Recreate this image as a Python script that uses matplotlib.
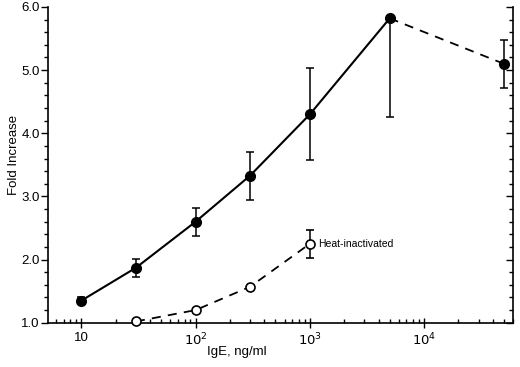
import matplotlib
matplotlib.use("Agg")
import matplotlib.pyplot as plt
from matplotlib.ticker import FixedLocator, LogLocator, MultipleLocator, NullFormatter
import numpy as np

plt.rcParams["font.family"] = ["Liberation Sans", "DejaVu Sans"]

# IgE dose (ng/ml) and fold increase, active IgE
ige = [10, 30, 100, 300, 1000, 5000]
fold = [1.35, 1.87, 2.60, 3.33, 4.30, 5.82]
err_lo = [0.06, 0.14, 0.22, 0.38, 0.73, 1.56]
err_hi = [0.06, 0.14, 0.22, 0.38, 0.73, 0.0]

# highest dose, joined with a dashed line
ige_high = [5000, 50000]
fold_high = [5.82, 5.10]
err_high = [0.0, 0.38]

# heat-inactivated IgE
ige_heat = [30, 100, 300, 1000]
fold_heat = [1.02, 1.20, 1.57, 2.25]
err_heat = [0.0, 0.0, 0.0, 0.22]

xticks = [10, 100, 1000, 10000]
xtick_labels = ["10", "$10^2$", "$10^3$", "$10^4$"]
yticks = [1.0, 2.0, 3.0, 4.0, 5.0, 6.0]

fig = plt.figure(figsize=(5.2, 3.67), dpi=100)
ax = fig.add_axes([0.0923, 0.1207, 0.8942, 0.8603])

ax.plot(ige, fold, color="black", lw=1.5, zorder=2)
ax.errorbar(ige, fold, yerr=[err_lo, err_hi], fmt="o", color="black",
            ms=7, capsize=3, elinewidth=1.1, capthick=1.1, zorder=3)
ax.plot(ige_high, fold_high, color="black", lw=1.3, ls=(0, (5, 4)), zorder=2)
ax.errorbar(ige_high[1:], fold_high[1:], yerr=err_high[1:], fmt="o", color="black",
            ms=7, capsize=3, elinewidth=1.1, capthick=1.1, zorder=3)

ax.plot(ige_heat, fold_heat, color="black", lw=1.3, ls=(0, (5, 4)), zorder=2)
ax.errorbar(ige_heat, fold_heat, yerr=err_heat, fmt="o", color="black",
            mfc="white", mec="black", mew=1.2, ms=6.5, capsize=3,
            elinewidth=1.1, capthick=1.1, zorder=3, clip_on=False)
ax.text(1180, fold_heat[-1], "Heat-inactivated", fontsize=7.5, va="center", ha="left")

ax.set_xscale("log")
ax.set_xlim(5.1, 60000)
ax.set_ylim(1.0, 6.0)

ax.xaxis.set_major_locator(FixedLocator(xticks))
ax.set_xticklabels(xtick_labels)
ax.xaxis.set_minor_locator(LogLocator(base=10, subs=np.arange(2, 10)))
ax.xaxis.set_minor_formatter(NullFormatter())
ax.set_yticks(yticks)
ax.set_yticklabels([f"{v:.1f}" for v in yticks])
ax.yaxis.set_minor_locator(MultipleLocator(0.2))

ax.spines["top"].set_visible(False)
for s in ["left", "bottom", "right"]:
    ax.spines[s].set_linewidth(1.2)

ax.tick_params(axis="y", which="both", direction="out", left=True, right=True,
               labelsize=9.5, width=1, pad=1)
ax.tick_params(axis="y", which="major", length=5)
ax.tick_params(axis="y", which="minor", length=3)
ax.tick_params(axis="x", which="major", direction="inout", length=7, width=1,
               labelsize=9.5, pad=3)
ax.tick_params(axis="x", which="minor", direction="in", length=3, width=1)

# right spine ticks point inward
for t in ax.yaxis.get_major_ticks() + ax.yaxis.get_minor_ticks():
    t.tick2line.set_marker(matplotlib.lines.TICKLEFT)

fig.text(14 / 520, 1 - 155 / 367, "Fold Increase", fontsize=9.5, rotation=90,
         ha="center", va="center")
fig.text(237 / 520, 1 - 352 / 367, "IgE, ng/ml", fontsize=9.5, ha="center", va="center")

fig.savefig("out.png", dpi=100)
